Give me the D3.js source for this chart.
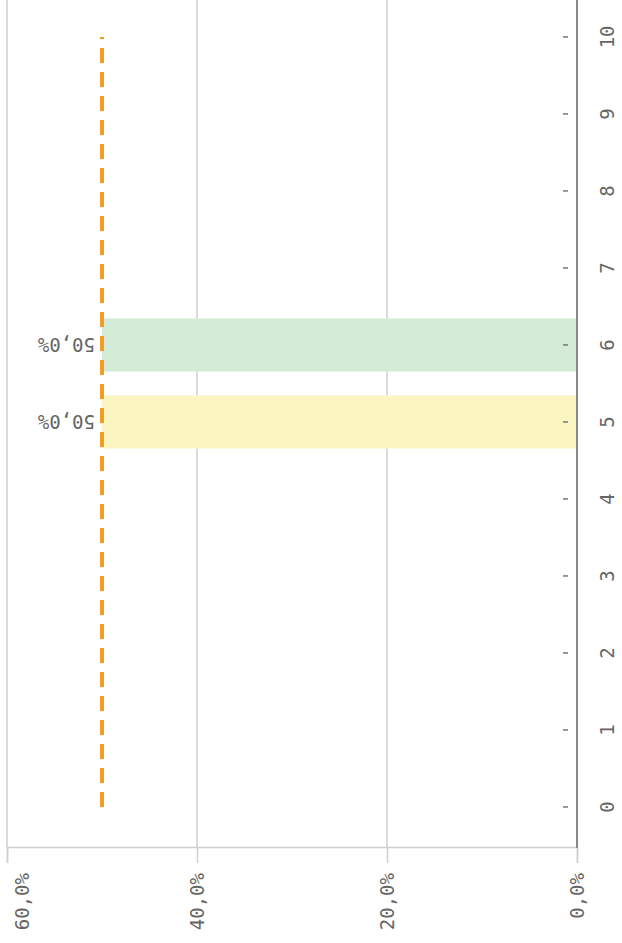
<!DOCTYPE html>
<html>
<head>
<meta charset="utf-8">
<script src="https://cdn.jsdelivr.net/npm/d3@7"></script>
<style>
    body { margin: 0; background: #fff; }
    text { font-family: "DejaVu Sans Mono", monospace; fill: #666; }
</style>
</head>
<body>
<script>
// chart data
var categories = [0, 1, 2, 3, 4, 5, 6, 7, 8, 9, 10];
var barCategories = [5, 6];
var barValues = [50, 50];
var barColors = ["#fbf6c1", "#d4ebd8"];
var refLineValue = 50;
var valueTicks = [0, 20, 40, 60];

function init() {
    var W = 622;
    var H = 943;

    var svg = d3.select("body")
        .append("svg")
        .attr("width", W)
        .attr("height", H);

    // the chart is drawn in its normal orientation and then turned a quarter left
    var g = svg.append("g")
        .attr("transform", "translate(0," + H + ") rotate(-90)");

    var xScale = d3.scaleBand()
        .domain(categories)
        .range([85.6, 956.5])
        .padding(0.31);

    var yScale = d3.scaleLinear()
        .domain([0, 60])
        .range([577, 7]);

    var locale = d3.formatLocale({decimal: ",", thousands: ".", grouping: [3], currency: ["", "€"]});
    var pct = function(d) { return locale.format(".1f")(d) + "%"; };

    var axisX0 = 95; // where the value axis sits

    // grid lines
    g.selectAll(".grid")
        .data(valueTicks.slice(1))
        .enter().append("line")
        .attr("x1", axisX0)
        .attr("x2", H + 5)
        .attr("y1", function(d) { return yScale(d); })
        .attr("y2", function(d) { return yScale(d); })
        .attr("stroke", "#cfcfcf")
        .attr("stroke-width", 1.5);

    // bars
    g.selectAll(".bar")
        .data(barValues)
        .enter().append("rect")
        .attr("x", function(d, i) { return xScale(barCategories[i]); })
        .attr("width", xScale.bandwidth())
        .attr("y", function(d) { return yScale(d); })
        .attr("height", function(d) { return yScale(0) - yScale(d); })
        .attr("fill", function(d, i) { return barColors[i]; });

    // value axis
    var yAxis = d3.axisLeft(yScale)
        .tickValues(valueTicks)
        .tickSize(15)
        .tickPadding(10)
        .tickFormat(pct);

    var ya = g.append("g")
        .attr("transform", "translate(" + axisX0 + ",0)")
        .call(yAxis);
    ya.select(".domain").attr("stroke", "#cfcfcf").attr("stroke-width", 1.5);
    ya.selectAll(".tick line").attr("stroke", "#cfcfcf").attr("stroke-width", 1.5);
    ya.selectAll(".tick text")
        .attr("font-size", 19)
        .attr("dy", function(d) { return d === 60 ? "1.15em" : "0.35em"; })
        .style("font-family", "'DejaVu Sans Mono', monospace")
        .attr("fill", "#666");

    // category axis
    var xAxis = d3.axisBottom(xScale)
        .tickSize(0);

    var xa = g.append("g")
        .attr("transform", "translate(0," + yScale(0) + ")")
        .call(xAxis);
    xa.select(".domain").remove();
    xa.selectAll(".tick line")
        .attr("y1", -9)
        .attr("y2", -14)
        .attr("stroke", "#777")
        .attr("stroke-width", 1.5);
    xa.selectAll(".tick text")
        .attr("y", 30)
        .attr("dy", "0.35em")
        .attr("font-size", 19)
        .style("font-family", "'DejaVu Sans Mono', monospace")
        .attr("fill", "#666");

    g.append("line")
        .attr("x1", axisX0)
        .attr("x2", H + 5)
        .attr("y1", yScale(0))
        .attr("y2", yScale(0))
        .attr("stroke", "#888")
        .attr("stroke-width", 2);

    // dashed reference line
    var line = d3.line()
        .x(function(d) { return xScale(d) + xScale.bandwidth() / 2; })
        .y(function() { return yScale(refLineValue); });

    g.append("path")
        .datum([categories[0], categories[categories.length - 1]])
        .attr("d", line)
        .attr("fill", "none")
        .attr("stroke", "#f39c1f")
        .attr("stroke-width", 4)
        .attr("stroke-dasharray", "15,9");

    // value labels on the bars
    g.selectAll(".lbl")
        .data(barValues)
        .enter().append("text")
        .attr("transform", function(d, i) {
            var cx = xScale(barCategories[i]) + xScale.bandwidth() / 2;
            return "translate(" + cx + "," + (yScale(d) - 7) + ") rotate(-90)";
        })
        .attr("text-anchor", "start")
        .attr("dy", "0.35em")
        .attr("font-size", 19)
        .attr("fill", "#555")
        .text(function(d) { return pct(d); });
}

window.onload = init;
</script>
</body>
</html>
